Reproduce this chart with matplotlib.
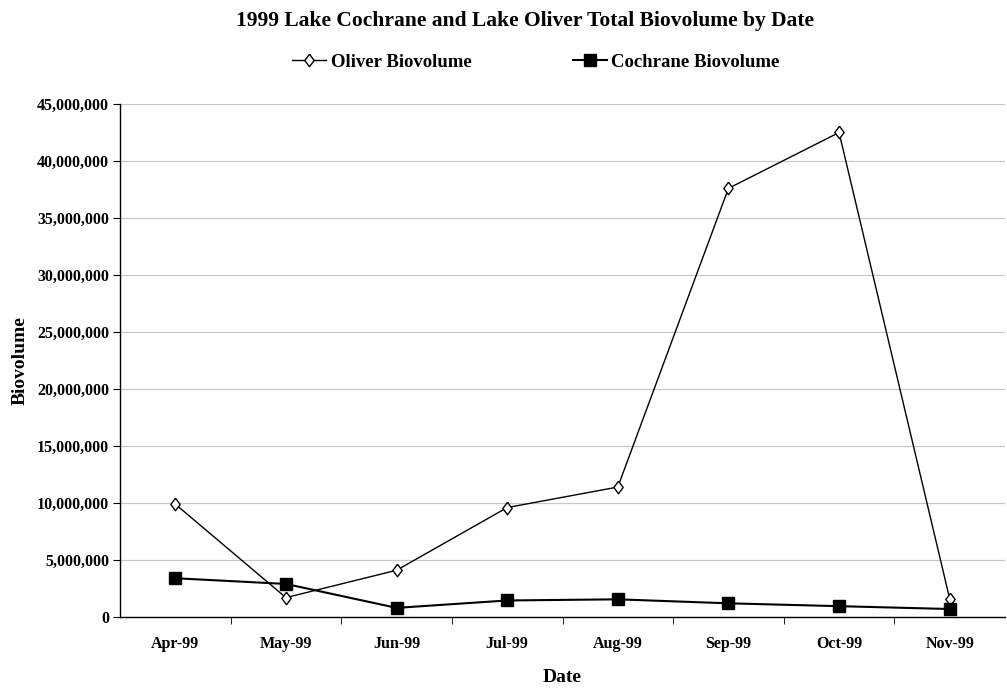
import matplotlib.pyplot as plt
from matplotlib.ticker import FuncFormatter, MultipleLocator

plt.rcParams['font.family'] = ['Liberation Serif', 'DejaVu Serif']
plt.rcParams['font.weight'] = 'bold'

# data
dates = ["Apr-99", "May-99", "Jun-99", "Jul-99", "Aug-99", "Sep-99", "Oct-99", "Nov-99"]
oliver = [9900000, 1700000, 4100000, 9600000, 11400000, 37600000, 42500000, 1600000]
cochrane = [3400000, 2900000, 800000, 1450000, 1550000, 1200000, 950000, 700000]

fig = plt.figure(figsize=(10.07, 6.89), dpi=100)
ax = fig.add_axes([120 / 1007, 1 - 617 / 689, 885 / 1007, 513 / 689])

# tall, narrow open diamond like the original
diamond = [(0, 1), (0.75, 0), (0, -1), (-0.75, 0), (0, 1)]

x = list(range(len(dates)))
ax.plot(x, oliver, color="black", lw=1, marker=diamond, ms=9, mfc="white", mec="black",
        mew=1, label="Oliver Biovolume")
ax.plot(x, cochrane, color="black", lw=1.5, marker="s", ms=8.6, mfc="black", mec="black",
        label="Cochrane Biovolume")

ax.set_xlim(-0.5, len(dates) - 0.5)
ax.set_ylim(0, 45000000)
ax.yaxis.set_major_locator(MultipleLocator(5000000))
ax.yaxis.set_major_formatter(FuncFormatter(lambda v, p: f"{int(v):,}"))
ax.set_xticks(x)
ax.set_xticklabels(dates)
ax.set_xticks([i + 0.5 for i in x[:-1]], minor=True)
ax.tick_params(axis="x", which="major", length=0, pad=14, labelsize=11.5)
ax.tick_params(axis="x", which="minor", length=5, direction="out")
ax.tick_params(axis="y", length=5, direction="out", labelsize=11.5, pad=3)
ax.grid(axis="y", color="#c8c8c8", lw=0.9)
ax.set_axisbelow(True)
for s in ["top", "right"]:
    ax.spines[s].set_visible(False)
ax.spines["left"].set_linewidth(1)
ax.spines["bottom"].set_linewidth(1)

ax.set_xlabel("Date", fontsize=14, fontweight="bold", labelpad=12)
ax.set_ylabel("Biovolume", fontsize=14, fontweight="bold", labelpad=6)
fig.text(525 / 1007, 1 - 21 / 689, "1999 Lake Cochrane and Lake Oliver Total Biovolume by Date",
         ha="center", va="center", fontsize=15.5, fontweight="bold")
fig.legend(loc="center left", bbox_to_anchor=(283 / 1007, 1 - 62 / 689), ncol=2, frameon=False,
           fontsize=13.5, borderpad=0, handlelength=1.8, handletextpad=0.25, columnspacing=5.4)

fig.savefig("out.png", dpi=100)
